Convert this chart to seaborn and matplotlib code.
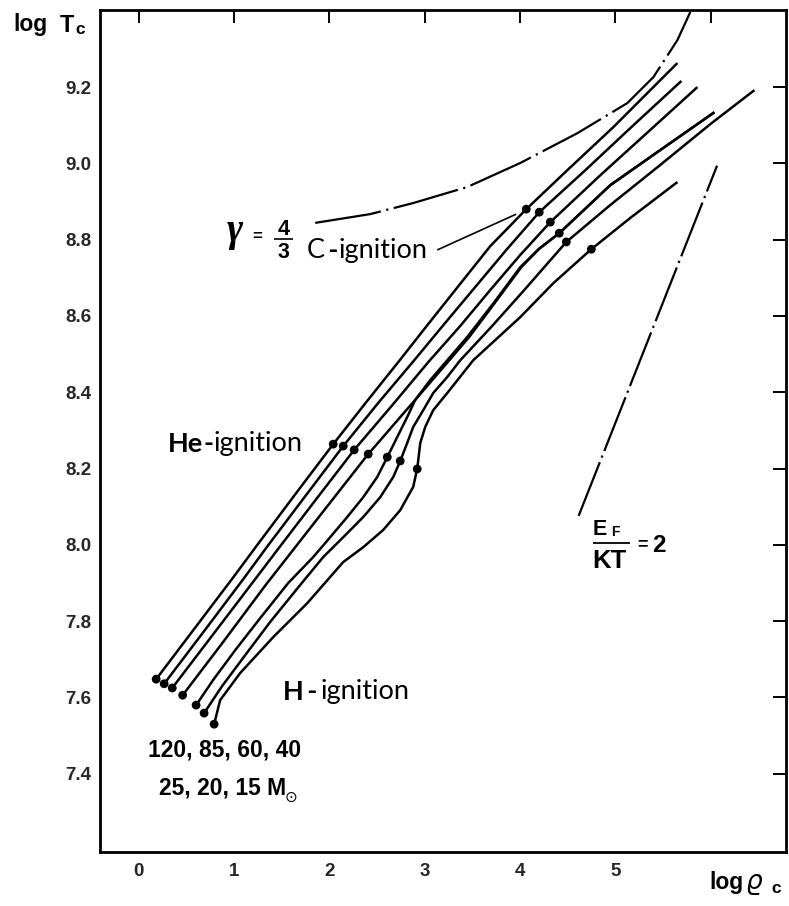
import numpy as np
import pandas as pd
import matplotlib
matplotlib.use("Agg")
import matplotlib.pyplot as plt
from matplotlib.lines import Line2D
import seaborn as sns

# ---------------- data (log rho_c , log T_c) ----------------
masses = ["120", "85", "60", "40", "25", "20", "15"]

t120_x = [0.184, 0.593, 0.981, 1.254, 1.653, 2.041, 2.387, 2.723, 3.038, 3.353, 3.688, 4.066, 4.496, 4.979, 5.651]
t120_y = [7.648, 7.783, 7.911, 8.003, 8.136, 8.264, 8.374, 8.479, 8.579, 8.678, 8.783, 8.880, 8.982, 9.095, 9.263]

t85_x = [0.268, 0.687, 1.097, 1.359, 1.758, 2.146, 2.513, 2.891, 3.206, 3.521, 3.856, 4.202, 4.685, 5.168, 5.693]
t85_y = [7.636, 7.774, 7.910, 7.999, 8.131, 8.259, 8.372, 8.484, 8.579, 8.673, 8.773, 8.872, 8.982, 9.095, 9.216]

t60_x = [0.353, 0.771, 1.201, 1.453, 1.863, 2.261, 2.660, 3.038, 3.374, 3.688, 4.003, 4.318, 4.843, 5.399, 5.861]
t60_y = [7.625, 7.762, 7.903, 7.986, 8.120, 8.249, 8.366, 8.479, 8.574, 8.668, 8.760, 8.846, 8.969, 9.095, 9.200]

t40_x = [0.462, 0.876, 1.327, 1.884, 2.408, 2.565, 2.744, 2.901, 3.059, 3.447, 3.730, 4.003, 4.200, 4.412, 4.948, 5.472, 6.039]
t40_y = [7.606, 7.742, 7.893, 8.071, 8.238, 8.283, 8.335, 8.380, 8.432, 8.545, 8.636, 8.728, 8.776, 8.817, 8.943, 9.035, 9.134]

t25_x = [0.603, 0.782, 1.013, 1.275, 1.569, 1.831, 2.009, 2.188, 2.356, 2.503, 2.608, 2.713, 2.817, 2.901,
         3.080, 3.468, 3.741, 4.014, 4.200, 4.412, 4.948, 5.472, 6.039]
t25_y = [7.580, 7.646, 7.724, 7.808, 7.900, 7.968, 8.020, 8.073, 8.125, 8.178, 8.230, 8.283, 8.335, 8.380,
         8.432, 8.545, 8.636, 8.728, 8.776, 8.817, 8.943, 9.035, 9.134]

t20_x = [0.687, 0.876, 1.118, 1.380, 1.695, 1.936, 2.146, 2.356, 2.534, 2.671, 2.744, 2.817, 2.880, 2.985,
         3.090, 3.237, 3.374, 3.709, 4.045, 4.486, 4.948, 5.472, 5.997, 6.459]
t20_y = [7.559, 7.630, 7.711, 7.798, 7.895, 7.968, 8.020, 8.073, 8.125, 8.178, 8.220, 8.267, 8.309, 8.353,
         8.398, 8.440, 8.484, 8.574, 8.668, 8.794, 8.891, 8.996, 9.103, 9.192]

t15_x = [0.792, 0.855, 1.065, 1.411, 1.768, 2.146, 2.356, 2.565, 2.744, 2.880, 2.922, 2.954, 3.006, 3.090,
         3.237, 3.510, 4.003, 4.350, 4.748, 5.157, 5.651]
t15_y = [7.530, 7.593, 7.664, 7.758, 7.847, 7.955, 7.994, 8.039, 8.091, 8.152, 8.199, 8.267, 8.309, 8.353,
         8.398, 8.484, 8.597, 8.686, 8.775, 8.857, 8.951]

# ignition points
h_ign_x = [0.184, 0.268, 0.353, 0.462, 0.603, 0.687, 0.792]
h_ign_y = [7.648, 7.636, 7.625, 7.606, 7.580, 7.559, 7.530]
he_ign_x = [2.041, 2.146, 2.261, 2.408, 2.608, 2.744, 2.922]
he_ign_y = [8.264, 8.259, 8.249, 8.238, 8.230, 8.220, 8.199]
c_ign_x = [4.066, 4.202, 4.318, 4.412, 4.486, 4.748]
c_ign_y = [8.880, 8.872, 8.846, 8.817, 8.794, 8.775]

# gamma = 4/3 boundary
gamma_x = [1.852, 2.429, 2.880, 3.447, 4.003, 4.601, 5.126, 5.399, 5.651, 5.787]
gamma_y = [8.844, 8.867, 8.896, 8.938, 9.001, 9.079, 9.158, 9.226, 9.323, 9.397]

# E_F / kT = 2 degeneracy line
ef_x = [4.615, 6.067]
ef_y = [8.076, 8.994]

# pointer from "C-ignition" label
cptr_x = [3.132, 3.961]
cptr_y = [8.773, 8.867]

x_ticks = [0, 1, 2, 3, 4, 5, 6]
x_ticklabels = ["0", "1", "2", "3", "4", "5", ""]
y_ticks = [7.4, 7.6, 7.8, 8.0, 8.2, 8.4, 8.6, 8.8, 9.0, 9.2]
y_ticklabels = ["7.4", "7.6", "7.8", "8.0", "8.2", "8.4", "8.6", "8.8", "9.0", "9.2"]

# ---------------- figure ----------------
sns.set_theme(style="white")
plt.rcParams["font.family"] = ["Liberation Sans", "DejaVu Sans"]
plt.rcParams["lines.solid_capstyle"] = "butt"

W, H = 789, 906
fig = plt.figure(figsize=(W / 100, H / 100), dpi=100)
fig.patch.set_facecolor("white")
ax = fig.add_axes([100 / W, 1 - 852 / H, (786 - 100) / W, (852 - 10) / H])
ax.set_facecolor("white")

tr_x = [t120_x, t85_x, t60_x, t40_x, t25_x, t20_x, t15_x]
tr_y = [t120_y, t85_y, t60_y, t40_y, t25_y, t20_y, t15_y]
frames = []
for m, xs, ys in zip(masses, tr_x, tr_y):
    frames.append(pd.DataFrame({"logrho": xs, "logT": ys, "mass": m}))
df = pd.concat(frames, ignore_index=True)

sns.lineplot(data=df, x="logrho", y="logT", units="mass", estimator=None, sort=False,
             color="black", linewidth=1.8, legend=False, ax=ax)

dots = pd.DataFrame({"x": h_ign_x + he_ign_x + c_ign_x, "y": h_ign_y + he_ign_y + c_ign_y})
sns.scatterplot(data=dots, x="x", y="y", color="black", s=40, edgecolor="none", legend=False, ax=ax, zorder=5)

ax.plot(gamma_x, gamma_y, color="black", linewidth=1.6, linestyle=(0, (30, 2.5, 1, 2.5)))
ax.plot(ef_x, ef_y, color="black", linewidth=1.6, linestyle=(0, (26, 2.2, 1, 2.2)))
ax.plot(cptr_x, cptr_y, color="black", linewidth=1.2)

ax.set_xlim(-0.405, 6.79)
ax.set_ylim(7.195, 9.402)
ax.set_xlabel("")
ax.set_ylabel("")

tick_font = dict(family="Liberation Sans", weight="bold", size=13.5)
ax.set_xticks(x_ticks)
ax.set_xticklabels(x_ticklabels, fontdict=tick_font)
ax.set_yticks(y_ticks)
ax.set_yticklabels(y_ticklabels, fontdict=tick_font)
ax.tick_params(axis="both", direction="in", length=9.5, width=1.4, color="black",
               top=True, right=True, labeltop=False, labelright=False)
ax.tick_params(axis="x", pad=8)
ax.tick_params(axis="y", pad=6)
for sp in ax.spines.values():
    sp.set_linewidth(2.0)
    sp.set_color("black")
    sp.set_visible(True)


def ftxt(px, py, s, **kw):
    kw.setdefault("va", "baseline")
    kw.setdefault("ha", "left")
    return fig.text(px / W, 1 - py / H, s, **kw)


def chain(prev, s, **kw):
    return ax.annotate(s, xy=(1, 0), xycoords=prev, va="bottom", ha="left", **kw)


bold = dict(family="Liberation Sans", weight="bold", color="black")

# axis titles
ftxt(13, 31, "log", size=16.5, **bold)
ftxt(60, 32, "T", size=17, **bold)
ftxt(75, 34, "c", size=12.5, **bold)
ftxt(709, 889, "log", size=16.5, **bold)
ftxt(746, 889, "ϱ", size=19, family="DejaVu Sans", weight="normal", style="italic", color="black")
ftxt(771, 893, "c", size=12.5, **bold)

# annotations
lato_b = dict(family="Lato", weight="bold", size=19.5, color="black")
lato_r = dict(family="Lato", weight="normal", size=19.5, color="black")

a = ftxt(168, 452, "He", **lato_b)
b = chain(a, "-", **lato_b)
chain(b, "ignition", **lato_r)

a = ftxt(307, 258, "C", **lato_r)
b = chain(a, "\u2009-", **lato_b)
chain(b, "ignition", **lato_r)

a = ftxt(283, 700, "H", **lato_b)
b = chain(a, "\u2009-\u2009", **lato_b)
chain(b, "ignition", **lato_r)

ftxt(148, 757, "120, 85, 60, 40", size=16.5, **bold)
ftxt(159, 795, "25, 20, 15 M", size=16.5, **bold)
ftxt(285, 802, "⊙", size=11, family="DejaVu Sans", color="black")

# gamma = 4/3
ftxt(227, 241, "γ", size=28, family="Liberation Serif", weight="bold", style="italic", color="black")
ftxt(257.5, 237, "=", size=12, ha="center", va="center", **bold)
ftxt(283.5, 235, "4", size=15.5, ha="center", **bold)
ftxt(283.5, 258, "3", size=15.5, ha="center", **bold)
fig.add_artist(Line2D([274 / W, 293 / W], [1 - 238.5 / H, 1 - 238.5 / H], color="black", lw=1.2,
                      transform=fig.transFigure))

# E_F / KT = 2
ftxt(593, 535, "E", size=15.5, **bold)
ftxt(611, 536, "F", size=10, **bold)
fig.add_artist(Line2D([593 / W, 630 / W], [1 - 543 / H, 1 - 543 / H], color="black", lw=1.3,
                      transform=fig.transFigure))
ftxt(592, 568, "KT", size=18.5, **bold)
ftxt(642.5, 545, "=", size=13, ha="center", va="center", **bold)
ftxt(652, 552, "2", size=17.5, **bold)

fig.savefig("out.png", dpi=100, facecolor="white")
